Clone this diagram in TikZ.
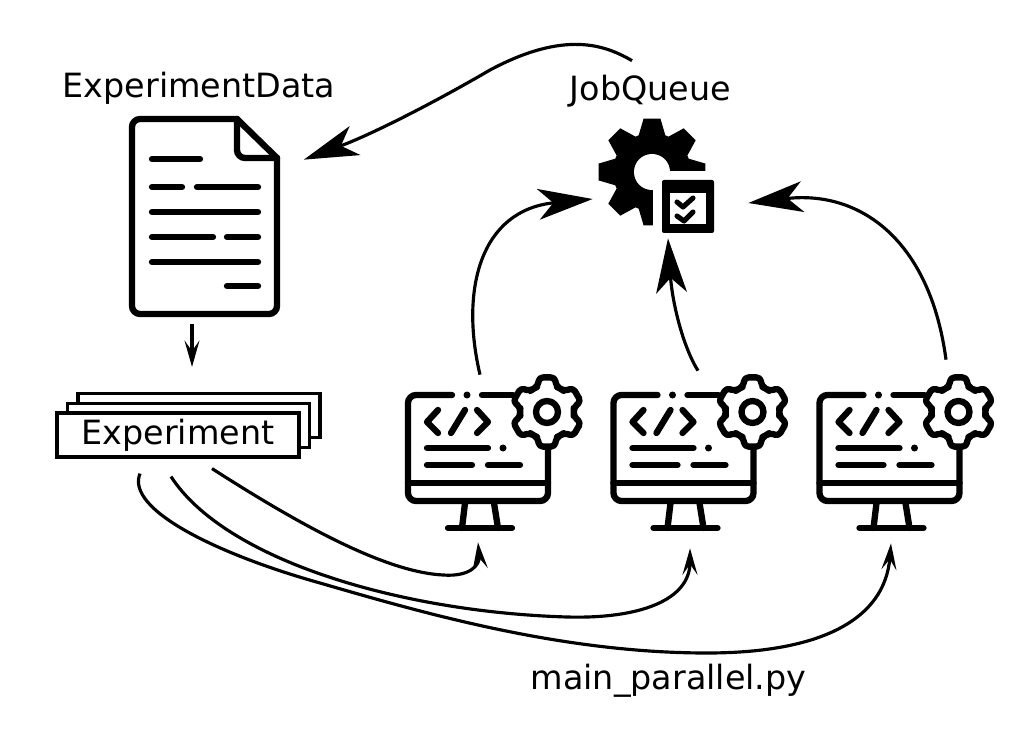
\documentclass[tikz,border=0pt]{standalone}
\usepackage{fontspec}
\setmainfont{DejaVu Sans}
\usetikzlibrary{arrows.meta}
\begin{document}
\begin{tikzpicture}[x=0.02cm,y=-0.02cm]
    \tikzset{label/.style = {font=\fontsize{19}{23}\selectfont,inner sep=0pt}}
    \tikzset{iconbox/.style 2 args = {inner sep=0pt,minimum width=#1*0.02cm,minimum height=#2*0.02cm}}
    \tikzset{sheet/.style = {draw,line width=1.8pt,fill=white,minimum width=242*0.02cm,minimum height=44*0.02cm,inner sep=0pt}}
    \tikzset{stroke/.style = {line width=3.6pt,line cap=round,line join=round}}
    \tikzset{bigedge/.style = {line width=1.8pt,-{Stealth[length=31pt,width=17.5pt,inset=8.5pt]}}}
    \tikzset{smalledge/.style = {line width=1.8pt,-{Stealth[length=15pt,width=8.5pt,inset=6pt]}}}
    \tikzset{monitor/.pic = {
        \draw[stroke,rounded corners=8*0.02cm] (44,0) -- (0,0) -- (0,106) -- (140,106) -- (140,53);
        \draw[stroke] (74,0) -- (105,0);
        \fill (59,0) circle (3.5);
        \draw[stroke] (0,88) -- (140,88);
        \draw[stroke] (30,15) -- (19,27) -- (30,38);
        \draw[stroke] (57,15) -- (43,38);
        \draw[stroke] (69,15) -- (80,27) -- (69,38);
        \draw[stroke] (19,53) -- (80,53);
        \fill (95,53) circle (3.5);
        \draw[stroke] (19,70) -- (64,70);
        \draw[stroke] (80,70) -- (112,70);
        \draw[stroke] (57,108) -- (54,133);
        \draw[stroke] (86,108) -- (90,133);
        \draw[stroke] (40,133) -- (104,133);
        \begin{scope}[shift={(139,17)}]
            \draw[stroke,fill=white,rounded corners=4*0.02cm] (0:27)
                \foreach \a in {30,90,...,330} { -- (\a-20:27) -- (\a-13:35.5) -- (\a+13:35.5) -- (\a+20:27) -- (\a+30:27) } -- cycle;
            \draw[stroke] (0,0) circle (11);
        \end{scope}
    }}
    % job queue icon
    \begin{scope}[shift={(652,172)}]
        \fill (-22.5:39) \foreach \a in {0,45,...,315} { -- (\a-20:39) -- (\a-9:54) -- (\a+9:54) -- (\a+20:39) -- (\a+22.5:39) } -- cycle;
        \fill[white] (0,0) circle (18);
    \end{scope}
    \fill[white] (653,171) rectangle (730,240);
    \fill[rounded corners=2*0.02cm] (662,180) rectangle (714,233);
    \fill[white] (670,193) rectangle (706,224);
    \draw[line width=2.9pt,line join=round,line cap=round] (677,202) -- (683,207) -- (693,198);
    \draw[line width=2.9pt,line join=round,line cap=round] (677,216) -- (684,221) -- (693,212);
    % document icon
    \draw[stroke,rounded corners=8*0.02cm] (237,119) -- (132,119) -- (132,314) -- (277,314) -- (277,158);
    \draw[stroke] (237,119) -- (277,158);
    \draw[stroke,rounded corners=8*0.02cm] (237,119) -- (237,158) -- (277,158);
    \draw[stroke] (152,159) -- (200,159);
    \draw[stroke] (152,187) -- (182,187);
    \draw[stroke] (197,187) -- (258,187);
    \draw[stroke] (152,212) -- (258,212);
    \draw[stroke] (152,237) -- (213,237);
    \draw[stroke] (227,237) -- (258,237);
    \draw[stroke] (152,262) -- (258,262);
    \draw[stroke] (227,286) -- (258,286);
    % monitors
    \pic at (408,395) {monitor};
    \pic at (613.5,395) {monitor};
    \pic at (819.5,395) {monitor};
    % nodes
    \node[label] (datalabel) at (199,88) {ExperimentData};
    \node[label] (joblabel) at (650.5,91) {JobQueue};
    \node[label] (mainlabel) at (668.5,681) {main\_parallel.py};
    \node[iconbox={116}{116}] (job) at (656,175) {};
    \node[iconbox={151}{201}] (doc) at (205,216.5) {};
    \node[iconbox={180}{158}] (mon1) at (495,454) {};
    \node[iconbox={180}{158}] (mon2) at (700,454) {};
    \node[iconbox={180}{158}] (mon3) at (906,454) {};
    \node[sheet] (back) at (199,415.5) {};
    \node[sheet] (middle) at (188.5,425.5) {};
    \node[sheet,font=\fontsize{19}{23}\selectfont] (front) at (178,435) {Experiment};
    % edges
    \draw[bigedge] ([shift={(-24,-56)}]job.north) .. controls (605,45) and (565,30) .. (490,70) .. controls (430,105) and (370,135) .. ([shift={(23,44)}]doc.north east);
    \draw[bigedge] ([shift={(-15,0)}]mon1.north) .. controls (460,290) and (480,210) .. ([shift={(-5,24)}]job.west);
    \draw[bigedge] ([shift={(-2,-4)}]mon2.north) .. controls (682,345) and (672,300) .. ([shift={(12,5)}]job.south);
    \draw[bigedge] ([shift={(40,-15)}]mon3.north) .. controls (930,240) and (860,190) .. ([shift={(34,28)}]job.east);
    \draw[smalledge] ([shift={(-13,7)}]doc.south) -- ([shift={(-7,-25)}]back.north);
    \draw[smalledge] ([shift={(34,10)}]front.south) .. controls (300,525) and (385,572) .. (443,575) .. controls (470,577) and (480,565) .. ([shift={(-17,9)}]mon1.south);
    \draw[smalledge] ([shift={(-7,18)}]front.south) .. controls (225,560) and (400,612) .. (567,617) .. controls (640,619) and (690,600) .. ([shift={(-10,15)}]mon2.south);
    \draw[smalledge] ([shift={(-38,15)}]front.south) .. controls (125,510) and (220,555) .. (320,583) .. controls (420,612) and (560,653) .. (707,653) .. controls (820,653) and (885,620) .. ([shift={(-15,10)}]mon3.south);
    \useasboundingbox (0,0) rectangle (1024,733);
\end{tikzpicture}
\end{document}
